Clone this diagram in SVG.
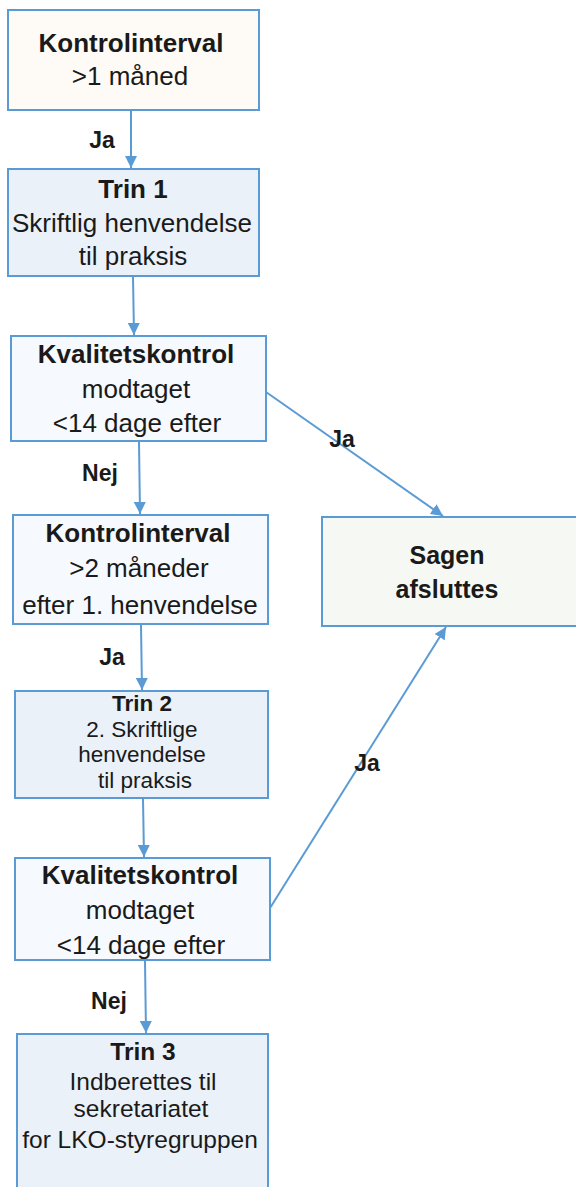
<svg xmlns="http://www.w3.org/2000/svg" width="576" height="1187" viewBox="0 0 576 1187">
<style>
.box{stroke:#5b9bd5;stroke-width:2}
.cream{fill:#fefaf6}
.blue{fill:#eaf1f9}
.pale{fill:#f6f9fd}
.green{fill:#f5f8f3}
text{font-family:"Liberation Sans",Arial,sans-serif;fill:#1a1a1a;text-anchor:middle}
.b{font-weight:bold}
.t1{font-size:26px}
.t2{font-size:24.5px}
.t3{font-size:22.5px}
.ts{font-size:25px}
.lbl{font-size:23px;font-weight:bold}
.conn{stroke:#5b9bd5;stroke-width:2;fill:none;marker-end:url(#arr)}
</style>
<defs>
<marker id="arr" viewBox="0 0 10 10" refX="10" refY="5" markerWidth="6" markerHeight="6" orient="auto" markerUnits="strokeWidth">
<path d="M0,0 L10,5 L0,10 z" fill="#5b9bd5"/>
</marker>
</defs>
<rect width="576" height="1187" fill="#ffffff"/>
<g id="connectors">
<line class="conn" x1="131" y1="110" x2="131" y2="168"/>
<line class="conn" x1="133" y1="277" x2="134" y2="335"/>
<line class="conn" x1="139" y1="442" x2="140" y2="514"/>
<line class="conn" x1="141" y1="625" x2="142" y2="690"/>
<line class="conn" x1="143" y1="799" x2="144" y2="857"/>
<line class="conn" x1="145" y1="961" x2="146" y2="1033"/>
<line class="conn" x1="266" y1="392" x2="443" y2="516"/>
<line class="conn" x1="270" y1="908" x2="446" y2="627"/>
<text class="lbl" x="102" y="148">Ja</text>
<text class="lbl" x="100" y="481">Nej</text>
<text class="lbl" x="342" y="447">Ja</text>
<text class="lbl" x="112" y="665">Ja</text>
<text class="lbl" x="367" y="771">Ja</text>
<text class="lbl" x="109" y="1009">Nej</text>
</g>
<g id="n1">
<rect class="box cream" x="8" y="10" width="251" height="100"/>
<text class="t1 b" x="131" y="52">Kontrolinterval</text>
<text class="t1" x="130" y="85">&gt;1 måned</text>
</g>
<g id="n2">
<rect class="box blue" x="8" y="169" width="251" height="107"/>
<text class="t1 b" x="133" y="198">Trin 1</text>
<text class="t1" x="132" y="232">Skriftlig henvendelse</text>
<text class="t1" x="133" y="265">til praksis</text>
</g>
<g id="n3">
<rect class="box pale" x="11" y="336" width="255" height="105"/>
<text class="t1 b" x="136" y="363">Kvalitetskontrol</text>
<text class="t1" x="136" y="398">modtaget</text>
<text class="t1" x="137" y="432">&lt;14 dage efter</text>
</g>
<g id="n4">
<rect class="box pale" x="13" y="515" width="255" height="109"/>
<text class="t1 b" x="138" y="542">Kontrolinterval</text>
<text class="t1" x="139" y="577">&gt;2 måneder</text>
<text class="t1" x="140" y="614">efter 1. henvendelse</text>
</g>
<g id="n5">
<rect class="box green" x="322" y="517" width="260" height="109"/>
<text class="ts b" x="447" y="564">Sagen</text>
<text class="ts b" x="447" y="598">afsluttes</text>
</g>
<g id="n6">
<rect class="box blue" x="15" y="691" width="253" height="107"/>
<text class="t3 b" x="142" y="711">Trin 2</text>
<text class="t3" x="142" y="737">2. Skriftlige</text>
<text class="t3" x="142" y="762">henvendelse</text>
<text class="t3" x="145" y="788">til praksis</text>
</g>
<g id="n7">
<rect class="box pale" x="15" y="858" width="255" height="102"/>
<text class="t1 b" x="140" y="884">Kvalitetskontrol</text>
<text class="t1" x="140" y="919">modtaget</text>
<text class="t1" x="141" y="954">&lt;14 dage efter</text>
</g>
<g id="n8">
<rect class="box blue" x="17" y="1034" width="251" height="170"/>
<text class="t2 b" x="143" y="1060">Trin 3</text>
<text class="t2" x="143" y="1090">Indberettes til</text>
<text class="t2" x="141" y="1117">sekretariatet</text>
<text class="t2" x="140" y="1148">for LKO-styregruppen</text>
</g>
</svg>
